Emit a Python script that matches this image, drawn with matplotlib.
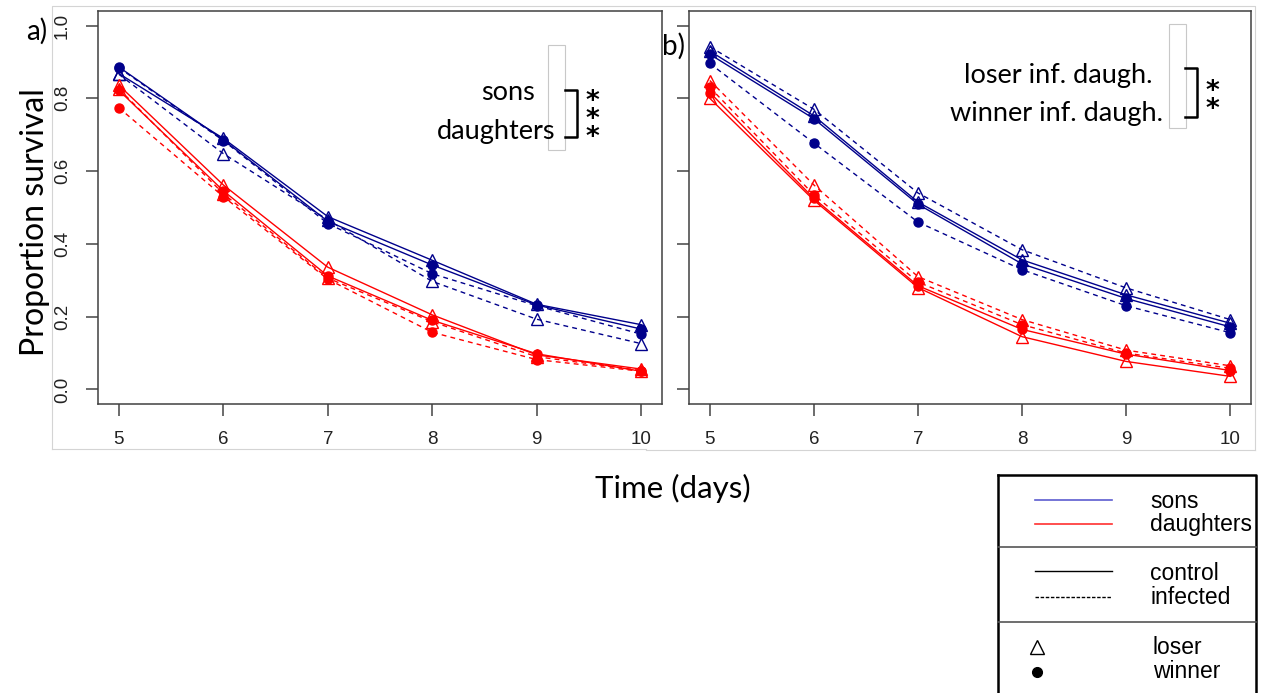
import matplotlib.pyplot as plt
from matplotlib.lines import Line2D
from matplotlib.patches import Rectangle

days = [5, 6, 7, 8, 9, 10]

# panel a) sons / daughters, control / infected, loser / winner
a_sons_ctrl_loser = [0.868, 0.690, 0.475, 0.355, 0.234, 0.178]
a_sons_ctrl_winner = [0.886, 0.686, 0.462, 0.342, 0.232, 0.166]
a_sons_inf_loser = [0.866, 0.648, 0.466, 0.297, 0.193, 0.126]
a_sons_inf_winner = [0.884, 0.684, 0.456, 0.318, 0.230, 0.152]
a_daug_ctrl_loser = [0.836, 0.562, 0.336, 0.205, 0.095, 0.056]
a_daug_ctrl_winner = [0.822, 0.546, 0.312, 0.190, 0.098, 0.050]
a_daug_inf_loser = [0.826, 0.538, 0.306, 0.186, 0.090, 0.052]
a_daug_inf_winner = [0.774, 0.530, 0.303, 0.157, 0.082, 0.050]

# panel b)
b_sons_ctrl_loser = [0.930, 0.752, 0.515, 0.356, 0.260, 0.182]
b_sons_ctrl_winner = [0.921, 0.744, 0.509, 0.345, 0.250, 0.172]
b_sons_inf_loser = [0.942, 0.770, 0.540, 0.384, 0.279, 0.192]
b_sons_inf_winner = [0.896, 0.677, 0.460, 0.329, 0.230, 0.156]
b_daug_ctrl_loser = [0.800, 0.520, 0.280, 0.145, 0.077, 0.036]
b_daug_ctrl_winner = [0.816, 0.525, 0.285, 0.165, 0.097, 0.052]
b_daug_inf_loser = [0.849, 0.562, 0.310, 0.192, 0.108, 0.065]
b_daug_inf_winner = [0.830, 0.535, 0.295, 0.178, 0.100, 0.058]

y_ticks = [0.0, 0.2, 0.4, 0.6, 0.8, 1.0]
y_tick_labels = ['0.0', '0.2', '0.4', '0.6', '0.8', '1.0']

BLUE = '#00008b'
RED = '#ff0000'
CALIBRI = ['Lato', 'DejaVu Sans']
ARIAL = ['Liberation Sans', 'DejaVu Sans']

W, H = 1266, 693


def series(prefix):
    g = globals()
    out = []
    for sex, col in (('sons', BLUE), ('daug', RED)):
        for trt, ls in (('ctrl', '-'), ('inf', '--')):
            for grp, mk in (('loser', '^'), ('winner', 'o')):
                out.append((g['%s_%s_%s_%s' % (prefix, sex, trt, grp)], col, ls, mk))
    return out


def draw_panel(ax, prefix, labels):
    for vals, col, ls, mk in series(prefix):
        kw = dict(color=col, lw=1.0, marker=mk, clip_on=False)
        if mk == '^':
            kw.update(ms=9, mfc='none', mec=col, mew=1.0)
        else:
            kw.update(ms=6.5, mfc=col, mec=col)
        if ls == '--':
            kw['dashes'] = (3.5, 3)
        ax.plot(days, vals, **kw)
    ax.set_xlim(4.8, 10.2)
    ax.set_ylim(-0.04, 1.04)
    ax.set_xticks(days)
    ax.set_xticklabels([str(d) for d in days], family=ARIAL, fontsize=13.5, color='#222222')
    ax.set_yticks(y_ticks)
    if labels:
        ax.set_yticklabels(y_tick_labels, family=ARIAL, fontsize=13.5, color='#222222',
                           rotation=90, va='center')
    else:
        ax.set_yticklabels([])
    ax.tick_params(length=8.5, width=1.1, color='#444444', pad=11)
    for s in ax.spines.values():
        s.set_color('#404040')
        s.set_linewidth(1.1)


fig = plt.figure(figsize=(W / 100, H / 100), dpi=100)

ax_a = fig.add_axes([98 / W, 1 - 404 / H, 564 / W, 393 / H])
ax_b = fig.add_axes([689 / W, 1 - 404 / H, 562 / W, 393 / H])
draw_panel(ax_a, 'a', True)
draw_panel(ax_b, 'b', False)

# overlay in pixel coordinates for labels, annotations and the legend box
ov = fig.add_axes([0, 0, 1, 1])
ov.set_xlim(0, W)
ov.set_ylim(H, 0)
ov.axis('off')
ov.patch.set_visible(False)

# faint frames of the pasted panels
ov.plot([52, 52, 1255, 1255], [449, 6, 6, 450], color='#d4d4d4', lw=0.8)
ov.plot([52, 646], [449, 449], color='#d4d4d4', lw=0.8)
ov.plot([646, 1255], [450, 450], color='#d4d4d4', lw=0.8)

ov.text(37, 31, 'a)', family=CALIBRI, fontsize=20, ha='center', va='center')
ov.text(673, 46, 'b)', family=CALIBRI, fontsize=20, ha='center', va='center')
ov.text(35, 222, 'Proportion survival', family=CALIBRI, fontsize=23,
        rotation=90, ha='center', va='center')
ov.text(673, 488, 'Time (days)', family=CALIBRI, fontsize=22.5, ha='center', va='center')

# significance brackets
ov.add_patch(Rectangle((548, 45), 17, 105, fill=False, ec='#c8c8c8', lw=0.8))
ov.text(535, 92, 'sons', family=CALIBRI, fontsize=19.5, ha='right', va='center')
ov.text(555, 131, 'daughters', family=CALIBRI, fontsize=19.5, ha='right', va='center')
ov.plot([565, 577, 577, 565], [90, 90, 137, 137], color='black', lw=1.8)
ov.text(592, 120, '*\n*\n*', family=['DejaVu Sans'], fontsize=19, fontweight='bold',
        ha='center', va='center', linespacing=0.62)

ov.add_patch(Rectangle((1169, 24), 17, 104, fill=False, ec='#c8c8c8', lw=0.8))
ov.text(1153, 75, 'loser inf. daugh.', family=CALIBRI, fontsize=19.5, ha='right', va='center')
ov.text(1163, 113, 'winner inf. daugh.', family=CALIBRI, fontsize=19.5, ha='right', va='center')
ov.plot([1185, 1197, 1197, 1185], [68, 68, 117, 117], color='black', lw=1.8)
ov.text(1212, 101, '*\n*', family=['DejaVu Sans'], fontsize=19, fontweight='bold',
        ha='center', va='center', linespacing=0.62)

# legend box
ov.plot([998, 1256, 1256], [475, 475, 700], color='black', lw=1.8)
ov.plot([998, 998], [475, 700], color='black', lw=1.8)
ov.plot([998, 1256], [547, 547], color='#555555', lw=1.2)
ov.plot([998, 1256], [622, 622], color='#555555', lw=1.2)
ov.add_line(Line2D([1035, 1112], [500, 500], color='#5c5cd0', lw=1.2))
ov.add_line(Line2D([1035, 1112], [524, 524], color='#ff3030', lw=1.2))
ov.add_line(Line2D([1035, 1112], [571, 571], color='black', lw=1.0))
ov.add_line(Line2D([1035, 1112], [597, 597], color='black', lw=1.0, dashes=(2.5, 1.2)))
ov.add_line(Line2D([1037], [647], marker='^', ms=10, mfc='none', mec='black', mew=1.0, ls='none'))
ov.add_line(Line2D([1037], [672], marker='o', ms=7, mfc='black', mec='black', ls='none'))
leg_text = [('sons', 1150, 501), ('daughters', 1150, 525), ('control', 1150, 573),
            ('infected', 1150, 597), ('loser', 1153, 648), ('winner', 1153, 672)]
for t, xx, yy in leg_text:
    ov.text(xx, yy, t, family=ARIAL, fontsize=16.5, ha='left', va='center')

fig.savefig('out.png', dpi=100)
